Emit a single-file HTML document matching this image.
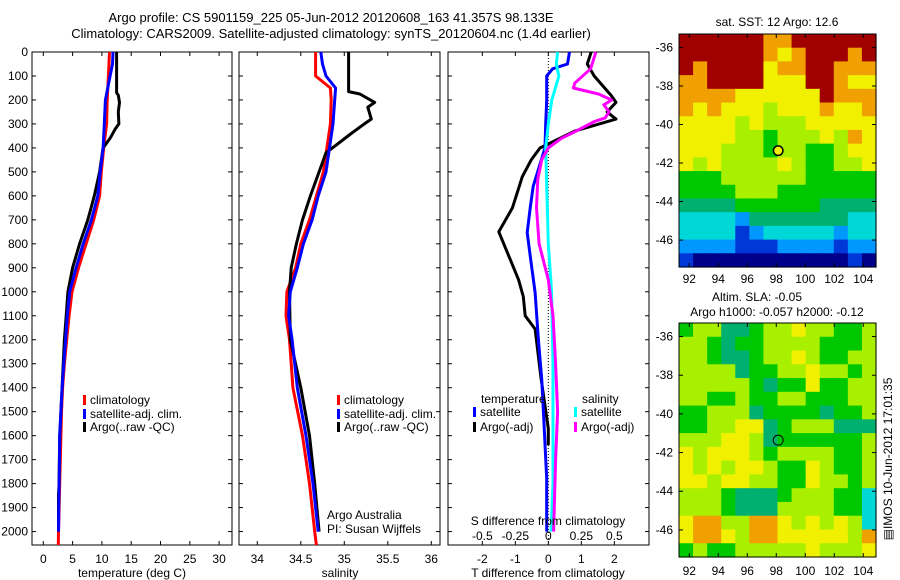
<!DOCTYPE html>
<html><head><meta charset="utf-8"><style>
html,body{margin:0;padding:0;background:#fff;}
svg{display:block;font-family:"Liberation Sans",sans-serif;}
</style></head><body>
<svg id="fig" width="900" height="580" viewBox="0 0 900 580"></svg>
<script>
// ===== data =====
const depthTicks=[0,100,200,300,400,500,600,700,800,900,1000,1100,1200,1300,1400,1500,1600,1700,1800,1900,2000];
const tempTicks=[0,5,10,15,20,25,30];
const salTicks=[34,34.5,35,35.5,36];
const tdTicks=[-2,-1,0,1,2];
const sdTicks=[-0.5,-0.25,0,0.25,0.5];
const lonTicks=[92,94,96,98,100,102,104];
const latTicks=[-36,-38,-40,-42,-44,-46];
// temperature profiles [depth, value]
const tempClimDepth=[0,100,200,300,400,500,600,700,800,900,1000,1100,1200,1300,1400,1500,1600,1800,2000,2056];
const tempClimVal=[11.3,11.1,10.9,10.8,10.3,9.9,9.6,8.6,7.3,6.0,4.9,4.4,4.0,3.6,3.3,3.1,3.0,2.8,2.6,2.55];
const tempSatDepth=[0,50,100,200,300,400,500,600,700,800,900,1000,1100,1200,1300,1400,1500,1600,1800,2000];
const tempSatVal=[11.9,11.8,11.4,10.6,10.4,10.2,9.7,9.3,8.2,6.8,5.6,4.5,4.1,3.8,3.5,3.2,3.0,2.8,2.7,2.6];
const tempArgoDepth=[0,170,180,210,250,300,320,360,400,500,600,700,800,900,1000,1100,1200,1300,1400,1500,1600,1800,1850,2000];
const tempArgoVal=[12.5,12.5,12.8,13.0,12.8,12.9,12.3,11.4,10.2,9.6,8.7,7.6,6.2,5.0,4.2,3.9,3.6,3.4,3.2,3.0,2.8,2.7,2.6,2.6];
// salinity profiles
const salClimDepth=[0,100,150,200,300,400,500,600,700,800,900,1000,1100,1200,1400,1600,1800,2000,2056];
const salClimVal=[34.67,34.67,34.84,34.85,34.84,34.8,34.76,34.68,34.6,34.5,34.44,34.34,34.33,34.37,34.41,34.52,34.6,34.66,34.68];
const salSatDepth=[0,50,100,150,200,300,400,500,600,700,800,900,1000,1100,1200,1400,1600,1800,2000];
const salSatVal=[34.73,34.75,34.79,34.9,34.89,34.87,34.83,34.79,34.7,34.63,34.53,34.46,34.38,34.36,34.4,34.46,34.56,34.64,34.7];
const salArgoDepth=[0,165,175,210,230,280,300,340,390,420,500,600,700,800,900,1000,1200,1400,1600,1800,2000];
const salArgoVal=[35.05,35.05,35.18,35.35,35.27,35.31,35.23,35.08,34.9,34.79,34.71,34.61,34.52,34.45,34.39,34.37,34.38,34.5,34.6,34.66,34.71];
// differences
const tdSatDepth=[0,50,70,100,200,300,400,560,650,753,850,1003,1200,1363,1500,1778,2000];
const tdSatVal=[0.64,0.58,0.13,-0.05,-0.05,-0.08,-0.1,-0.46,-0.55,-0.64,-0.55,-0.4,-0.3,-0.2,-0.15,-0.05,-0.05];
const tdArgoDepth=[0,50,100,180,210,250,280,330,380,400,450,520,650,750,850,950,1020,1100,1155,1363,1570,1640];
const tdArgoVal=[1.3,1.18,1.39,1.9,2.05,1.78,2.05,0.8,0.05,-0.25,-0.52,-0.79,-1.09,-1.5,-1.2,-0.9,-0.76,-0.7,-0.4,-0.22,0.0,0.0];
const sdSatDepth=[0,50,100,200,300,400,600,800,1000,1300,1500,1800,2000];
const sdSatVal=[0.07,0.06,0.08,0.026,0.0,-0.02,-0.01,0.0,0.025,0.035,0.035,0.035,0.02];
const sdArgoDepth=[0,70,130,150,175,200,220,250,275,290,330,360,400,450,530,650,800,950,1100,1300,1500,1700,2000];
const sdArgoVal=[0.36,0.32,0.2,0.19,0.38,0.48,0.42,0.46,0.43,0.35,0.21,0.1,0.0,-0.05,-0.08,-0.09,-0.07,0.0,0.035,0.055,0.07,0.055,0.04];
// maps (value codes 0-9, rows north->south)
const sstGrid=["99999988999999","99999987899989","98999978899888","88999977799877","88887777779888","87877767778778","77776766677777","77776656667687","77766656655677","76766667655667","55566666655555","55556665555555","44445555554444","33332444444433","33331233333233","22221112222122","10000000000010"];
const slaGrid=["56644566766556","66545566665556","66544566765566","66664556676656","66666545575566","66556556655566","55666455554556","55667745666444","66677645555556","76777656666556","76767765576556","77677665576656","66654445666553","66654446666553","78866887676763","78876887777768","56556666676667"];
const argoLon=98.133, argoLat=-41.357;

// ===== helpers =====
const NS="http://www.w3.org/2000/svg";
const svg=document.getElementById('fig');
function el(tag,attrs,parent){const e=document.createElementNS(NS,tag);for(const k in attrs)e.setAttribute(k,attrs[k]);(parent||svg).appendChild(e);return e;}
function txt(x,y,s,anchor,size,parent){const t=el('text',{x:x,y:y,'font-size':size||12,'text-anchor':anchor||'start',fill:'#000'},parent);t.textContent=s;return t;}
const cmap=['#00008a','#0038d8','#0098ff','#00d8d8','#00b070','#00c800','#a8f000','#f0f000','#f0a000','#a00000'];

const TOP=52,BOT=545,D0=0,D1=2056;
function yD(d){return TOP+(d-D0)/(D1-D0)*(BOT-TOP);}
function mkX(l,r,v0,v1){return v=>l+(v-v0)/(v1-v0)*(r-l);}
const xT=mkX(32,232,-1.93,32.2);
const xS=mkX(239,440,33.79,36.1);
const xTD=mkX(448,649,-3.04,3.05);
const xSD=v=>xTD(v*4);

function frame(l,r,name,showY){
  const g=el('g',{});
  
  
  el('rect',{x:l,y:TOP,width:r-l,height:BOT-TOP,fill:'none',stroke:'#000','stroke-width':1},g);
  depthTicks.forEach(d=>{const y=yD(d);el('line',{x1:l,y1:y,x2:l+4,y2:y,stroke:'#000'},g);el('line',{x1:r-4,y1:y,x2:r,y2:y,stroke:'#000'},g);
    if(showY){txt(28,y+4,String(d),'end',12,g);}});
  return g;
}
function xticks(g,fx,ticks,fmt,yLab){ticks.forEach(v=>{const x=fx(v);el('line',{x1:x,y1:BOT,x2:x,y2:BOT-4,stroke:'#000'},g);el('line',{x1:x,y1:TOP,x2:x,y2:TOP+4,stroke:'#000'},g);txt(x,yLab,fmt(v),'middle',12,g);});}
function profile(g,fx,ds,vs,color,w,name){
  let p='';for(let i=0;i<ds.length;i++){p+=(i?'L':'M')+fx(vs[i]).toFixed(1)+' '+yD(ds[i]).toFixed(1);}
  const e=el('path',{d:p,fill:'none',stroke:color,'stroke-width':w,'stroke-linejoin':'round'},g);
  
  
}
function legendItem(g,x,y,color,label){el('rect',{x:x,y:y-9,width:3,height:10,fill:color},g);txt(x+7,y,label,'start',12,g);}

// titles
txt(331,22,'Argo profile: CS 5901159_225 05-Jun-2012 20120608_163 41.357S 98.133E','middle',13);
txt(331,38,'Climatology: CARS2009. Satellite-adjusted climatology: synTS_20120604.nc (1.4d earlier)','middle',13);

// panel 1
const g1=frame(32,232,'temperature-panel',true);
xticks(g1,xT,tempTicks,v=>String(v),563);
txt(132,577,'temperature (deg C)','middle',12,g1);
profile(g1,xT,tempClimDepth,tempClimVal,'#ff0000',3,'temp-climatology-line');
profile(g1,xT,tempArgoDepth,tempArgoVal,'#000',3,'temp-argo-line');
profile(g1,xT,tempSatDepth,tempSatVal,'#0000ff',3,'temp-satellite-line');
legendItem(g1,83,404,'#ff0000','climatology');
legendItem(g1,83,418,'#0000ff','satellite-adj. clim.');
legendItem(g1,83,431,'#000','Argo(..raw -QC)');

// panel 2
const g2=frame(239,440,'salinity-panel',false);
xticks(g2,xS,salTicks,v=>String(v),563);
txt(340,577,'salinity','middle',12,g2);
profile(g2,xS,salClimDepth,salClimVal,'#ff0000',3,'sal-climatology-line');
profile(g2,xS,salArgoDepth,salArgoVal,'#000',3,'sal-argo-line');
profile(g2,xS,salSatDepth,salSatVal,'#0000ff',3,'sal-satellite-line');
legendItem(g2,337,404,'#ff0000','climatology');
legendItem(g2,337,418,'#0000ff','satellite-adj. clim.');
legendItem(g2,337,431,'#000','Argo(..raw -QC)');
txt(327,519,'Argo Australia','start',12,g2);
txt(327,533,'PI: Susan Wijffels','start',12,g2);

// panel 3
const g3=frame(448,649,'difference-panel',false);
el('line',{x1:xTD(0),y1:TOP,x2:xTD(0),y2:BOT,stroke:'#000','stroke-dasharray':'1,2'},g3);
xticks(g3,xTD,tdTicks,v=>String(v),563);
txt(548,577,'T difference from climatology','middle',12,g3);
profile(g3,xTD,tdArgoDepth,tdArgoVal,'#000',3,'tdiff-argo-line');
profile(g3,xTD,tdSatDepth,tdSatVal,'#0000ff',3,'tdiff-satellite-line');
profile(g3,xSD,sdSatDepth,sdSatVal,'#00ffff',3,'sdiff-satellite-line');
profile(g3,xSD,sdArgoDepth,sdArgoVal,'#ff00ff',3,'sdiff-argo-line');
sdTicks.forEach(v=>txt(xSD(v),540,String(v).replace('0.','.').replace(/^\./,'0.').replace('-.','-0.'),'middle',12,g3));
txt(548,525,'S difference from climatology','middle',12,g3);
txt(481,403,'temperature','start',12,g3);
legendItem(g3,473,416,'#0000ff','satellite');
legendItem(g3,473,431,'#000','Argo(-adj)');
txt(582,403,'salinity','start',12,g3);
legendItem(g3,574,416,'#00ffff','satellite');
legendItem(g3,574,431,'#ff00ff','Argo(-adj)');

// maps
function drawMap(top,bot,grid,name,lonLabY){
  const L=679,R=876,lon0=91.29,lon1=104.88,lat0=-35.3,lat1=-47.4;
  const fx=mkX(L,R,lon0,lon1), fy=v=>top+(v-lat0)/(lat1-lat0)*(bot-top);
  const g=el('g',{});
  
  
  const rows=grid.length, cols=grid[0].length, cw=(R-L)/cols, ch=(bot-top)/rows;
  grid.forEach((row,i)=>{for(let j=0;j<cols;j++){el('rect',{x:(L+j*cw).toFixed(2),y:(top+i*ch).toFixed(2),width:(cw+0.6).toFixed(2),height:(ch+0.6).toFixed(2),fill:cmap[+row[j]]},g);}});
  el('rect',{x:L,y:top,width:R-L,height:bot-top,fill:'none',stroke:'#000'},g);
  lonTicks.forEach(v=>{const x=fx(v);el('line',{x1:x,y1:bot,x2:x,y2:bot-4,stroke:'#000'},g);el('line',{x1:x,y1:top,x2:x,y2:top+4,stroke:'#000'},g);txt(x,lonLabY,String(v),'middle',12,g);});
  latTicks.forEach(v=>{const y=fy(v);el('line',{x1:L,y1:y,x2:L+4,y2:y,stroke:'#000'},g);el('line',{x1:R-4,y1:y,x2:R,y2:y,stroke:'#000'},g);txt(673,y+4,String(v),'end',12,g);});
  const c=el('circle',{cx:fx(argoLon),cy:fy(argoLat),r:5,fill:'none',stroke:'#000','stroke-width':1},g);
  
  
  return g;
}
const m1=drawMap(34,267,sstGrid,'sst-map',283);
el('circle',{cx:mkX(679,876,91.29,104.88)(argoLon),cy:34+(argoLat+35.3)/(-12.1)*233,r:4.5,fill:'#f0f000',stroke:'#000'},m1);
txt(777,26,'sat. SST: 12  Argo: 12.6','middle',12);
drawMap(323,557,slaGrid,'sla-map',575);
txt(757,301,'Altim. SLA: -0.05','middle',12);
txt(777,316,'Argo h1000: -0.057 h2000: -0.12','middle',12);
const stamp=txt(0,0,'\u25A4IMOS 10-Jun-2012 17:01:35','middle',12);
stamp.setAttribute('transform','translate(892,459) rotate(-90)');

</script>
</body></html>
